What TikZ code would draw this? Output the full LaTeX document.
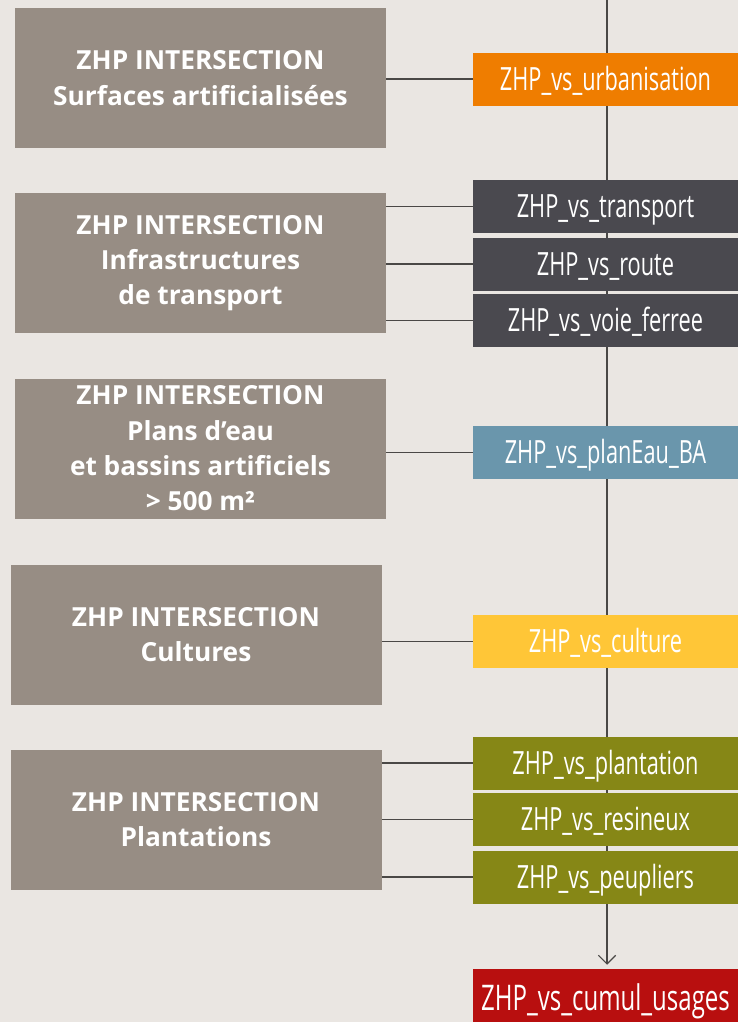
\documentclass[tikz,border=0pt]{standalone}
\usepackage{fontspec}
\setmainfont{Open Sans}
\newfontfamily\condfont[FakeStretch=0.68]{Open Sans}
\usepackage{tikz}
\usetikzlibrary{positioning, arrows.meta}
\definecolor{paper}{HTML}{EAE6E2}
\definecolor{taupe}{HTML}{978D84}
\definecolor{wire}{HTML}{4A4846}
\definecolor{urbcol}{HTML}{EF7D00}
\definecolor{trancol}{HTML}{4A494F}
\definecolor{eaucol}{HTML}{6A96AC}
\definecolor{cultcol}{HTML}{FFC637}
\definecolor{plantcol}{HTML}{868716}
\definecolor{cumulcol}{HTML}{B80F0F}
\tikzset{
x=0.75pt, y=-0.75pt, % one unit is one pixel of the layout
theme/.style={fill=taupe, text=white, align=center, minimum width=278.25pt, minimum height=105pt, inner sep=0pt, font=\bfseries\fontsize{19.7}{26.5}\selectfont}, % the grey query boxes
layer/.style={text=white, minimum width=198.75pt, minimum height=39.75pt, inner sep=0pt, text height=21.5pt, text depth=4.5pt, font=\condfont\fontsize{24}{28}\selectfont}, % the coloured output layers
link/.style={draw=wire, line width=0.9pt}, % thin joining lines
}
\begin{document}
\begin{tikzpicture}
    \fill[paper] (0,0) rectangle (738,1022);
    \useasboundingbox (0,0) rectangle (738,1022);
    % final layer and the main trunk
    \node[layer, fill=cumulcol, text height=26pt, text depth=4pt, font=\condfont\fontsize{26.5}{30}\selectfont] (cumul) at (605.5,995.5) {ZHP\_vs\_cumul\_usages};
    \coordinate (top) at (607,0);
    \draw[link, -{Straight Barb[length=6.5pt, width=13pt]}, shorten >=3pt] (top) -- (top |- cumul.north);
    % query boxes
    \node[theme] (surf) at (200.5,78) {ZHP INTERSECTION\\Surfaces artificialisées};
    \node[theme] (infra) at (200.5,263) {ZHP INTERSECTION\\Infrastructures\\de transport};
    \node[theme] (eau) at (200.5,448.5) {ZHP INTERSECTION\\Plans d’eau\\et bassins artificiels\\> 500 m²};
    \node[theme] (cult) at (196,634.5) {ZHP INTERSECTION\\Cultures};
    \node[theme] (plant) at (196,819.5) {ZHP INTERSECTION\\Plantations};
    % output layers
    \node[layer, fill=urbcol] (urb) at (605.5,79) {ZHP\_vs\_urbanisation};
    \node[layer, fill=trancol] (transport) at (605.5,206.5) {ZHP\_vs\_transport};
    \node[layer, fill=trancol, below=3pt of transport] (route) {ZHP\_vs\_route};
    \node[layer, fill=trancol, below=2.25pt of route] (voie) {ZHP\_vs\_voie\_ferree};
    \node[layer, fill=eaucol] (planeau) at (605.5,452.5) {ZHP\_vs\_planEau\_BA};
    \node[layer, fill=cultcol] (culture) at (605.5,641.5) {ZHP\_vs\_culture};
    \node[layer, fill=plantcol] (plantation) at (605.5,763) {ZHP\_vs\_plantation};
    \node[layer, fill=plantcol, below=2.25pt of plantation] (resineux) {ZHP\_vs\_resineux};
    \node[layer, fill=plantcol, below=3pt of resineux] (peupliers) {ZHP\_vs\_peupliers};
    % joining lines
    \draw[link] (urb.west) -- (urb.west -| surf.east);
    \draw[link] (transport.west) -- (transport.west -| infra.east);
    \draw[link] (route.west) -- (route.west -| infra.east);
    \draw[link] (voie.west) -- (voie.west -| infra.east);
    \draw[link] (planeau.west) -- (planeau.west -| eau.east);
    \draw[link] (culture.west) -- (culture.west -| cult.east);
    \draw[link] (plantation.west) -- (plantation.west -| plant.east);
    \draw[link] (resineux.west) -- (resineux.west -| plant.east);
    \draw[link] (peupliers.west) -- (peupliers.west -| plant.east);
\end{tikzpicture}
\end{document}
